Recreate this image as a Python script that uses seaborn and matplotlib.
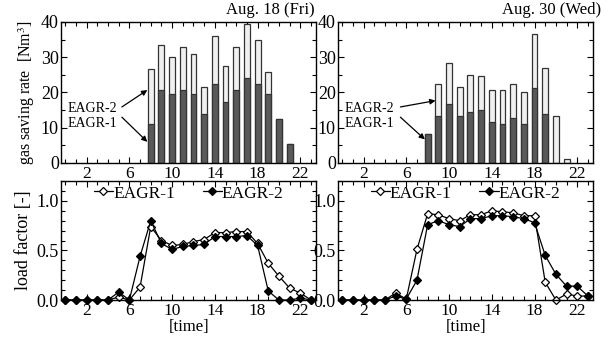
import numpy as np
import pandas as pd
import matplotlib
matplotlib.use("Agg")
import matplotlib.pyplot as plt
from matplotlib.ticker import MultipleLocator, FixedLocator, FormatStrFormatter
import seaborn as sns

# ---- data ----
bar_hours = list(range(8, 22))
fri_eagr1 = [11.0, 20.6, 19.6, 20.6, 19.6, 13.8, 22.3, 17.3, 20.6, 24.1, 22.4, 19.7, 12.4, 5.5]
fri_eagr2 = [15.8, 13.0, 10.6, 12.4, 11.2, 7.9, 13.6, 10.1, 12.4, 15.2, 12.4, 6.1, 0.0, 0.0]
wed_eagr1 = [8.2, 13.4, 16.8, 13.4, 14.5, 15.1, 11.7, 11.0, 12.9, 11.2, 21.3, 14.0, 0.0, 0.0]
wed_eagr2 = [0.0, 8.9, 11.7, 8.3, 10.6, 9.5, 8.9, 9.6, 9.6, 9.0, 15.2, 13.0, 13.3, 1.0]

hours = list(range(0, 24))
fri_load1 = [0, 0, 0, 0, 0, 0.03, 0, 0.13, 0.74, 0.60, 0.55, 0.56, 0.59, 0.61,
             0.68, 0.68, 0.69, 0.69, 0.57, 0.37, 0.24, 0.12, 0.07, 0.0]
fri_load2 = [0, 0, 0, 0, 0, 0.08, 0, 0.44, 0.80, 0.57, 0.51, 0.54, 0.55, 0.56,
             0.64, 0.64, 0.64, 0.65, 0.55, 0.09, 0.0, 0.0, 0.02, 0.0]
wed_load1 = [0, 0, 0, 0, 0, 0.07, 0.01, 0.51, 0.87, 0.86, 0.82, 0.80, 0.86, 0.86,
             0.90, 0.89, 0.88, 0.85, 0.85, 0.18, 0.0, 0.06, 0.04, 0.04]
wed_load2 = [0, 0, 0, 0, 0, 0.04, 0.01, 0.20, 0.76, 0.80, 0.76, 0.74, 0.82, 0.82,
             0.85, 0.85, 0.84, 0.82, 0.78, 0.45, 0.26, 0.14, 0.14, 0.04]

titles = ["Aug. 18 (Fri)", "Aug. 30 (Wed)"]
xticks = [2, 6, 10, 14, 18, 22]

sns.set_style("ticks")
plt.rcParams["font.family"] = ["Liberation Serif", "DejaVu Serif"]
plt.rcParams["mathtext.fontset"] = "stix"
plt.rcParams["font.size"] = 11
for k in ["text.color", "axes.labelcolor", "xtick.color", "ytick.color", "axes.edgecolor"]:
    plt.rcParams[k] = "black"

fig = plt.figure(figsize=(6.11, 3.40), dpi=100)
lefts = [0.0998, 0.553]
width = 0.418
top_axes = [fig.add_axes([l, 0.5206, width, 0.4147]) for l in lefts]
bot_axes = [fig.add_axes([l, 0.1176, width, 0.35]) for l in lefts]

DARK = "#595959"
LIGHT = "#f0f0f0"


def style_axis(ax):
    ax.set_xlim(-0.4, 23.5)
    ax.xaxis.set_major_locator(FixedLocator(xticks))
    ax.xaxis.set_minor_locator(MultipleLocator(1))
    ax.tick_params(which="both", direction="in", top=True, right=True,
                   pad=2, width=0.8, colors="black")
    ax.tick_params(axis="x", labelsize=12.5)
    ax.tick_params(axis="y", labelsize=13, pad=1.5)
    ax.tick_params(which="major", length=4)
    ax.tick_params(which="minor", length=3)
    for sp in ax.spines.values():
        sp.set_linewidth(1.0)
        sp.set_color("black")


arrow_ends = [((7.68, 20.7), (7.68, 6.0)), ((8.74, 17.7), (7.74, 6.7))]
arrow_start_x = [5.3, 5.45]
title_x = [0.995, 1.03]

for i, (e1, e2) in enumerate([(fri_eagr1, fri_eagr2), (wed_eagr1, wed_eagr2)]):
    ax = top_axes[i]
    df = pd.DataFrame({"hour": bar_hours, "EAGR-1": e1, "EAGR-2": e2})
    df["total"] = df["EAGR-1"] + df["EAGR-2"]
    sns.barplot(data=df, x="hour", y="total", native_scale=True, width=0.55,
                color=LIGHT, edgecolor="#333333", linewidth=0.9,
                errorbar=None, ax=ax, saturation=1)
    sns.barplot(data=df[df["EAGR-1"] > 0], x="hour", y="EAGR-1", native_scale=True,
                width=0.55, color=DARK, edgecolor="#333333", linewidth=0.9,
                errorbar=None, ax=ax, saturation=1)
    style_axis(ax)
    ax.set_ylim(0, 40)
    ax.yaxis.set_major_locator(MultipleLocator(10))
    ax.yaxis.set_minor_locator(MultipleLocator(5))
    ax.set_xlabel("")
    ax.set_ylabel("")
    ax.text(title_x[i], 1.025, titles[i], transform=ax.transAxes, fontsize=12,
            ha="right", va="bottom")
    # annotations
    ax.text(0.2, 15.6, "EAGR-2", fontsize=10, va="center", ha="left")
    ax.text(0.2, 11.3, "EAGR-1", fontsize=10, va="center", ha="left")
    end2, end1 = arrow_ends[i]
    ax.annotate("", xy=end2, xytext=(arrow_start_x[i], 15.9),
                arrowprops=dict(arrowstyle="-|>", color="black", lw=0.9,
                                mutation_scale=8, shrinkA=0, shrinkB=0))
    ax.annotate("", xy=end1, xytext=(arrow_start_x[i], 13.0),
                arrowprops=dict(arrowstyle="-|>", color="black", lw=0.9,
                                mutation_scale=8, shrinkA=0, shrinkB=0))

top_axes[0].set_ylabel("gas saving rate  [Nm$^3$]", fontsize=11.5, labelpad=3)

for i, (l1, l2) in enumerate([(fri_load1, fri_load2), (wed_load1, wed_load2)]):
    ax = bot_axes[i]
    sns.lineplot(x=hours, y=l1, ax=ax, color="black", linewidth=0.9, marker="D",
                 markersize=4.2, markerfacecolor="white", markeredgecolor="black",
                 markeredgewidth=0.9, label="EAGR-1")
    sns.lineplot(x=hours, y=l2, ax=ax, color="black", linewidth=0.9, marker="D",
                 markersize=4.2, markerfacecolor="black", markeredgecolor="black",
                 markeredgewidth=0.9, label="EAGR-2")
    style_axis(ax)
    ax.set_ylim(0, 1.2)
    ax.yaxis.set_major_locator(MultipleLocator(0.5))
    ax.yaxis.set_minor_locator(MultipleLocator(0.1))
    ax.yaxis.set_major_formatter(FormatStrFormatter("%.1f"))
    ax.set_xlabel("[time]", fontsize=12, labelpad=0)
    ax.set_ylabel("")
    for ln in ax.lines:
        ln.set_clip_on(False)
    ax.legend(loc="upper center", ncol=2, frameon=False, fontsize=12.5,
              handlelength=1.1, handletextpad=0.0, columnspacing=1.6,
              borderaxespad=0.15, borderpad=0.1)

bot_axes[0].set_ylabel("load factor [-]", fontsize=13, labelpad=3)

fig.savefig("out.png", dpi=100)
